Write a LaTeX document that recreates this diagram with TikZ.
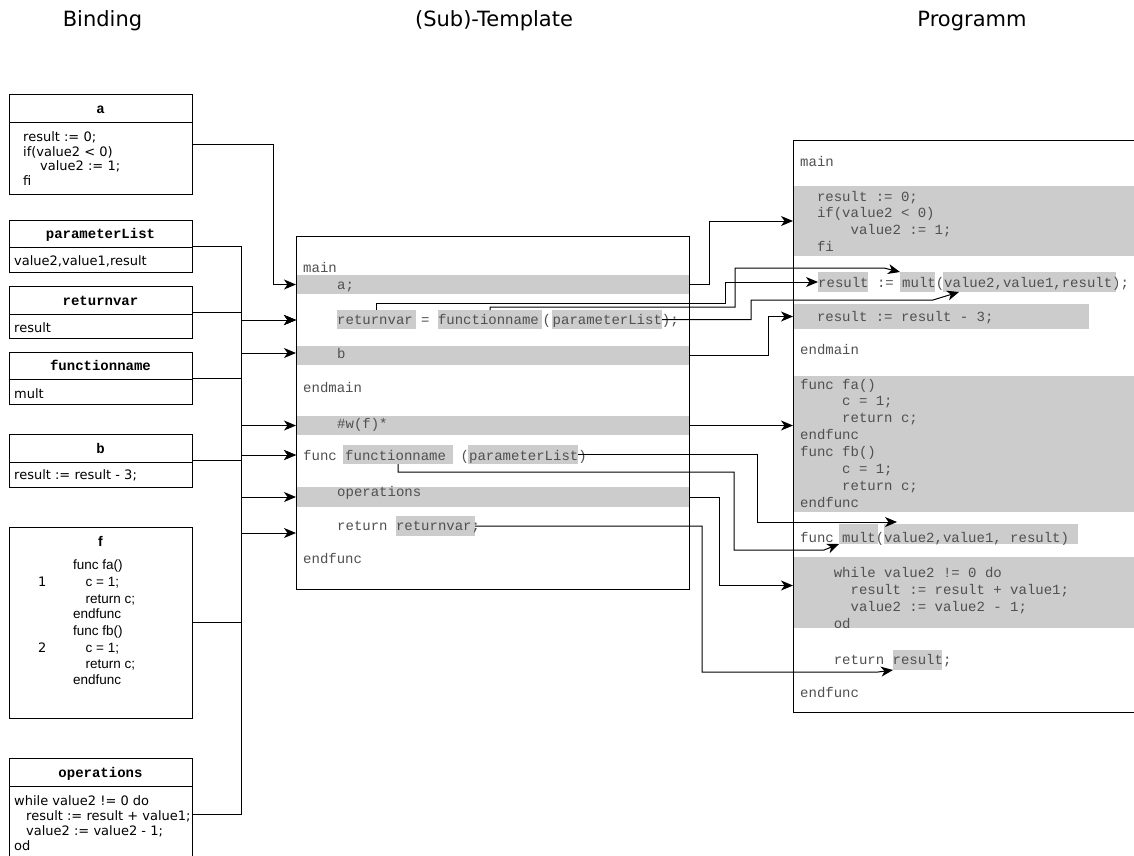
\documentclass[tikz,border=0pt]{standalone}
\usepackage{fontspec}
\setmainfont{DejaVu Sans}
\newfontfamily\cmono{Liberation Mono}
\newfontfamily\carial{Liberation Sans}
\usetikzlibrary{arrows.meta,calc,fit}
\definecolor{bandgray}{HTML}{CCCCCC}
\definecolor{codegray}{HTML}{505050}

\tikzset{
  frame/.style={draw=black, line width=1pt, inner sep=0pt, outer sep=0pt},
  frameline/.style={draw=black, line width=1pt},
  band/.style={fill=bandgray, draw=none, inner sep=0pt, outer sep=0pt},
  code/.style={font=\cmono\fontsize{14}{16}\selectfont, text=codegray, inner sep=0pt, anchor=base west},
  hdr/.style={font=\cmono\bfseries\fontsize{14}{16}\selectfont, inner sep=0pt, anchor=base},
  bodytxt/.style={font=\fontsize{13}{15}\selectfont, inner sep=0pt, anchor=base west},
  ftxt/.style={font=\carial\fontsize{13.5}{16}\selectfont, inner sep=0pt, anchor=base west},
  coltitle/.style={font=\fontsize{21}{24}\selectfont, inner sep=0pt},
  wire/.style={draw=black, line width=1pt, -{Stealth[length=12pt,width=10pt,inset=3.5pt]}},
}

% binding box: name, top, divider, bottom, header
\newcommand\bindingbox[5]{%
  \node[frame, fit={(9,#2) (192,#4)}] (#1) {};
  \draw[frameline] (9,#3) -- (192,#3);
  \node[hdr] (#1-h) at (100.5,{(#2+#3)/2+5}) {#5};
}
% grey highlight: name, x1, y1, x2, y2
\newcommand\hlband[5]{\node[band, fit={(#2,#3) (#4,#5)}] (#1) {};}

\begin{document}
\begin{tikzpicture}[x=1pt,y=-1pt]
\fill[white] (0,0) rectangle (1134,855);
\useasboundingbox (0,0) rectangle (1134,855);

% column titles
\node[coltitle] (ttlBinding) at (102.5,21) {Binding};
\node[coltitle] (ttlTemplate) at (494,21) {(Sub)-Template};
\node[coltitle] (ttlProgram) at (972,21) {Programm};

% ---------------- bindings ----------------
\bindingbox{bA}{94}{122}{194}{a}
\node[bodytxt] (bA1) at (23,141) {result := 0;};
\node[bodytxt] (bA2) at (23,156) {if(value2 < 0)};
\node[bodytxt] (bA3) at (40,170.5) {value2 := 1;};
\node[bodytxt] (bA4) at (23,185) {fi};

\bindingbox{bPL}{220}{247}{272}{parameterList}
\node[bodytxt] (bPL1) at (14,265) {value2,value1,result};

\bindingbox{bRV}{286}{314}{338}{returnvar}
\node[bodytxt] (bRV1) at (14,332) {result};

\bindingbox{bFN}{352}{379}{404}{functionname}
\node[bodytxt] (bFN1) at (14,398) {mult};

\bindingbox{bB}{434}{462}{487}{b}
\node[bodytxt] (bB1) at (14,479) {result := result - 3;};

\node[frame, fit={(9,527) (192,718)}] (bF) {};
\node[font=\carial\bfseries\fontsize{14}{16}\selectfont, inner sep=0pt, anchor=base] (bF-h) at (100.5,546) {f};
\node[bodytxt] (bFn1) at (38,586) {1};
\node[bodytxt] (bFn2) at (38,652) {2};
\node[ftxt] (bF1) at (73,569) {func fa()};
\node[ftxt] (bF2) at (85.5,586) {c = 1;};
\node[ftxt] (bF3) at (85.5,603) {return c;};
\node[ftxt] (bF4) at (73,618) {endfunc};
\node[ftxt] (bF5) at (73,635) {func fb()};
\node[ftxt] (bF6) at (85.5,652) {c = 1;};
\node[ftxt] (bF7) at (85.5,668) {return c;};
\node[ftxt] (bF8) at (73,684) {endfunc};

\bindingbox{bOps}{758}{786}{870}{operations}
\node[bodytxt] (bOps1) at (14,805) {while value2 != 0 do};
\node[bodytxt] (bOps2) at (26,820) {result := result + value1;};
\node[bodytxt] (bOps3) at (26,835) {value2 := value2 - 1;};
\node[bodytxt] (bOps4) at (14,850) {od};

% ---------------- template ----------------
\hlband{tA}{296}{275}{689}{294}
\hlband{tB}{296}{346}{689}{365}
\hlband{tW}{296}{416}{689}{435}
\hlband{tOps}{296}{487}{689}{507}
\hlband{tRv}{337}{310}{416}{329}
\hlband{tFn}{438}{310}{542}{329}
\hlband{tPl}{552}{310}{662}{329}
\hlband{tFn2}{343}{445}{453}{464}
\hlband{tPl2}{468}{445}{578}{464}
\hlband{tRv2}{396}{516}{475}{536}

\node[code] (tl1) at (303,272) {main};
\node[code] (tl2) at (337,289) {a;};
\node[code] (tl3a) at (337,324) {returnvar = functionname};
\node[code] (tl3b) at (542.5,324) {(};
\node[code] (tl3c) at (552.5,324) {parameterList);};
\node[code] (tl4) at (337,358) {b};
\node[code] (tl5) at (303,392) {endmain};
\node[code] (tl6) at (337,428) {\#w(f)*};
\node[code] (tl7a) at (303,460) {func functionname};
\node[code] (tl7b) at (460.5,460) {(parameterList)};
\node[code] (tl8) at (337,496) {operations};
\node[code] (tl9) at (337,530) {return returnvar;};
\node[code] (tl10) at (303,563) {endfunc};

\node[frame, fit={(296,236) (689,589)}] (tpl) {};

% ---------------- program ----------------
\hlband{pBand1}{793}{186}{1144}{256}
\hlband{pRes}{818}{272}{868}{292}
\hlband{pMult}{900}{272}{935}{292}
\hlband{pArgs}{943}{272}{1116}{292}
\hlband{pR3}{793}{304}{1089}{329}
\hlband{pFunc}{793}{376}{1144}{512}
\hlband{pMult2}{839}{524}{878}{544}
\hlband{pArgs2}{884}{524}{1078}{544}
\hlband{pWhile}{793}{557}{1144}{628}
\hlband{pRet}{893}{650}{942}{670}

\node[code] (pl1) at (800,166) {main};
\node[code] (pl2) at (816.8,201) {result := 0;};
\node[code] (pl3) at (816.8,217.7) {if(value2 < 0)};
\node[code] (pl4) at (850.4,234.4) {value2 := 1;};
\node[code] (pl5) at (816.8,251) {fi};
\node[code] (pl6) at (818,287) {result := mult(value2,value1,result);};
\node[code] (pl7) at (816.8,321) {result := result - 3;};
\node[code] (pl8) at (800,354) {endmain};
\node[code] (pl9) at (800,389) {func fa()};
\node[code] (pl10) at (842,405.85) {c = 1;};
\node[code] (pl11) at (842,422.7) {return c;};
\node[code] (pl12) at (800,439.55) {endfunc};
\node[code] (pl13) at (800,456.4) {func fb()};
\node[code] (pl14) at (842,473.25) {c = 1;};
\node[code] (pl15) at (842,490.1) {return c;};
\node[code] (pl16) at (800,507) {endfunc};
\node[code] (pl17) at (800,542) {func mult(value2,value1, result)};
\node[code] (pl18) at (833.6,577) {while value2 != 0 do};
\node[code] (pl19) at (850.4,594) {result := result + value1;};
\node[code] (pl20) at (850.4,611) {value2 := value2 - 1;};
\node[code] (pl21) at (833.6,628) {od};
\node[code] (pl22) at (833.6,664) {return result;};
\node[code] (pl23) at (800,697) {endfunc};

\node[frame, fit={(793,140) (1160,712)}] (prog) {};

% ---------------- bindings -> template ----------------
\coordinate (busX) at (241,0);
\coordinate (inCall) at (296,320);
\coordinate (inB) at (296,353);
\coordinate (inFunc) at (296,455);
\coordinate (inRet) at (296,533);

\draw[wire] (bA.east) -- ++(81,0) |- (tA.west);
\draw[wire] (bPL.east) -| (busX |- inCall) -- (inCall);
\draw[wire] (bPL.east) -| (busX |- inFunc) -- (inFunc);
\draw[wire] (bRV.east) -| (busX |- inCall) -- (inCall);
\draw[wire] (bRV.east) -| (busX |- inRet) -- (inRet);
\draw[wire] (bFN.east) -| (busX |- inCall) -- (inCall);
\draw[wire] (bFN.east) -| (busX |- inFunc) -- (inFunc);
\draw[wire] (bB.east) -| (busX |- inB) -- (inB);
\draw[wire] (bF.east) -| (busX |- tW.west) -- (tW.west);
\draw[wire] (bOps.east) -| (busX |- tOps.west) -- (tOps.west);

% ---------------- template -> program ----------------
\draw[wire] (tA.east) -- ++(20,0) |- (pBand1.west);
\draw[wire] (tRv.north) |- (725,303) |- (pRes.west);
\draw[wire] (tFn.north) |- (735,307) |- (884,268) -- (pMult.north west);
\draw[wire] (tPl.east) -| (751,300) -- (933,300) -- ($(pArgs.south west)+(16,0)$);
\draw[wire] (tB.east) -- ++(79,0) |- (pR3.west);
\draw[wire] (tW.east) -- (tW.east -| prog.west);
\draw[wire] (tPl2.east) -| (757,522) -- ($(pArgs2.north west)+(13,-2)$);
\draw[wire] (tFn2.south) |- (734,472) |- (824,550) -- (pMult2.south west);
\draw[wire] (tOps.east) -- ++(30,0) |- ($(prog.west |- pWhile.west)+(0,-7)$);
\draw[wire] (tRv2.east) -| (702,672) -- (878,672) -- (pRet.south west);
\end{tikzpicture}
\end{document}
